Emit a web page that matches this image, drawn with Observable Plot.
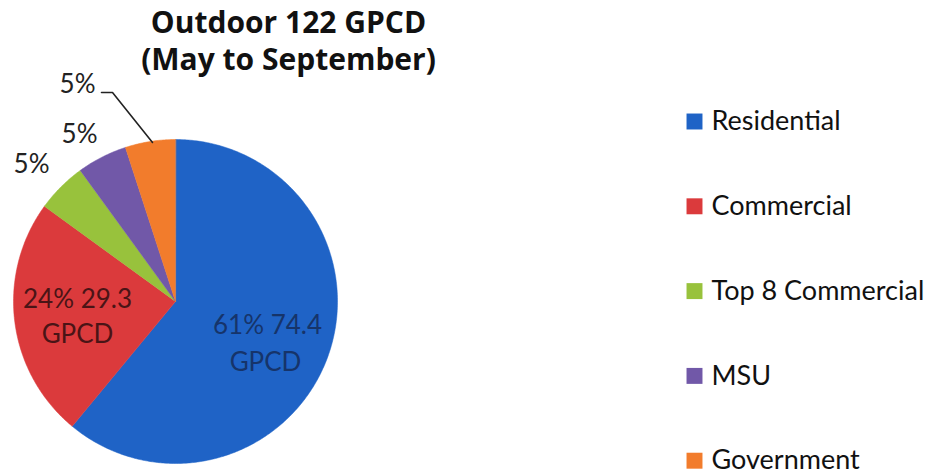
<!DOCTYPE html>
<html>
<head>
<meta charset="utf-8">
<script src="https://cdn.jsdelivr.net/npm/d3@7"></script>
<script src="https://cdn.jsdelivr.net/npm/@observablehq/plot@0.6"></script>
<style>
  html, body { margin: 0; padding: 0; background: #fff; }
  #chart svg { display: block; }
</style>
</head>
<body>
<div id="chart"></div>
<script>
const categories = ["Residential", "Commercial", "Top 8 Commercial", "MSU", "Government"];
const shares = [61, 24, 5, 5, 5];
const gpcd = ["74.4", "29.3", null, null, null];
const colors = ["#1f63c6", "#db3a3c", "#98c23c", "#7158a8", "#f27c2c"];
const titleLines = ["Outdoor 122 GPCD", "(May to September)"];

// geometry (pixels)
const CX = 175, CY = 301, R = 162;
const X = px => (px - CX) / R;
const Y = py => (py - CY) / R;

const pie = d3.pie().sort(null).value(d => d.share);
const data = categories.map((c, i) => ({cat: c, share: shares[i], gpcd: gpcd[i], color: colors[i]}));
const arcs = pie(data);

// slice polygons
const slices = arcs.map(a => {
  const pts = [{x: 0, y: 0}];
  const n = Math.max(4, Math.ceil((a.endAngle - a.startAngle) / 0.01));
  for (let k = 0; k <= n; k++) {
    const t = a.startAngle + (a.endAngle - a.startAngle) * k / n;
    pts.push({x: Math.sin(t), y: -Math.cos(t)});
  }
  return {pts, color: a.data.color};
});

const font = "Lato, 'Open Sans', sans-serif";
const titleFont = "'Open Sans', Lato, sans-serif";

// inside labels (baselines)
const inside = [
  {t: `${shares[0]}% ${gpcd[0]}`, x: X(267), y: Y(333), fill: "#16346a"},
  {t: "GPCD", x: X(265), y: Y(370), fill: "#16346a"},
  {t: `${shares[1]}% ${gpcd[1]}`, x: X(77), y: Y(307), fill: "#4a1416"},
  {t: "GPCD", x: X(77), y: Y(342), fill: "#4a1416"}
];
// outside labels for small slices (Government, MSU, Top 8)
const outside = [
  {t: `${shares[4]}%`, x: X(77), y: Y(92)},
  {t: `${shares[3]}%`, x: X(79), y: Y(142)},
  {t: `${shares[2]}%`, x: X(31), y: Y(172)}
];
const leader = [{x: X(101), y: Y(92)}, {x: X(112), y: Y(92)}, {x: X(152), y: Y(142)}];

const legend = categories.map((c, i) => ({cat: c, color: colors[i], x: X(694), tx: X(711), y: Y(121 + i * 84.8)}));

const title = titleLines.map((t, i) => ({t, x: X(288), y: Y(32 + i * 37)}));

const marks = [
  ...slices.map(s => Plot.line(s.pts, {x: "x", y: "y", fill: s.color, stroke: s.color, strokeWidth: 0.5, curve: "linear-closed"})),
  Plot.text(inside, {x: "x", y: "y", text: "t", fill: "fill", fontSize: 26, lineAnchor: "bottom", fontFamily: font}),
  Plot.text(outside, {x: "x", y: "y", text: "t", fill: "#222", fontSize: 26, lineAnchor: "bottom", fontFamily: font}),
  Plot.line(leader, {x: "x", y: "y", stroke: "#222", strokeWidth: 1.6}),
  Plot.dot(legend, {x: "x", y: "y", fill: "color", symbol: "square", r: 9}),
  Plot.text(legend, {x: "tx", y: "y", text: "cat", textAnchor: "start", fill: "#111", fontSize: 27, fontFamily: font}),
  Plot.text(title, {x: "x", y: "y", text: "t", fill: "#111", fontSize: 30, fontWeight: "bold", lineAnchor: "bottom", fontFamily: titleFont})
];

const chart = Plot.plot({
  width: 933,
  height: 474,
  margin: 0,
  x: {domain: [-1, 1], range: [CX - R, CX + R], axis: null},
  y: {domain: [-1, 1], range: [CY - R, CY + R], axis: null},
  style: {background: "#fff", fontFamily: font, overflow: "hidden"},
  marks
});
document.getElementById("chart").appendChild(chart);
</script>
</body>
</html>
